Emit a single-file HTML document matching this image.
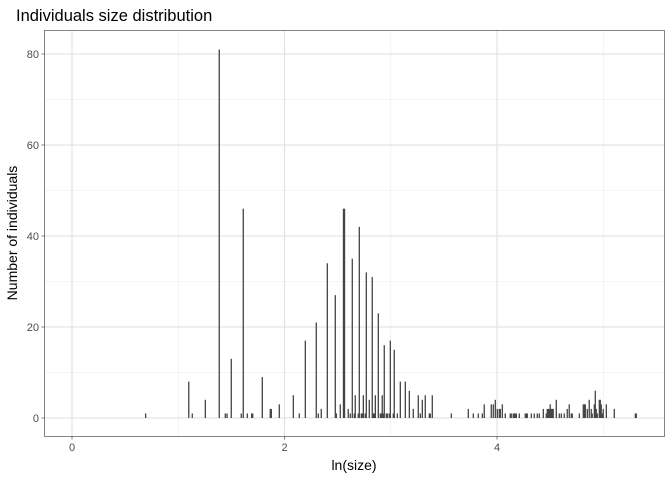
<!DOCTYPE html>
<html><head><meta charset="utf-8">
<style>
html,body{margin:0;padding:0;background:#fff;}
svg{display:block;font-family:"Liberation Sans",Arial,sans-serif;}
</style></head>
<body>
<svg id="chart" width="672" height="480" viewBox="0 0 672 480">
<text x="16" y="21" font-size="16.5" fill="#000">Individuals size distribution</text>
<g id="grid"></g>
<g id="bars"></g>
<rect x="44.5" y="30.5" width="620" height="406" fill="none" stroke="#333" stroke-width="0.6"/>
<g id="axes"></g>
<text x="354" y="470" font-size="14" text-anchor="middle" fill="#000">ln(size)</text>
<text transform="translate(17,233) rotate(-90)" font-size="14" text-anchor="middle" fill="#000">Number of individuals</text>
</svg>
<script>
const binX = [0.693,1.099,1.132,1.255,1.386,1.443,1.459,1.499,1.593,1.612,1.650,1.691,1.701,1.791,1.866,1.876,1.951,
2.083,2.139,2.196,2.299,2.318,2.346,2.403,2.478,2.488,2.525,2.555,2.565,2.600,2.619,2.638,2.657,2.666,2.694,2.704,2.723,2.732,2.742,2.760,2.770,2.798,2.826,2.836,2.845,2.855,2.883,2.902,2.911,2.920,2.930,2.939,2.958,2.968,2.986,2.996,3.024,3.033,3.062,3.090,3.137,3.175,3.212,3.259,3.278,3.297,3.325,3.363,3.372,3.391,
3.570,3.730,3.777,3.824,3.862,3.880,3.946,3.965,3.984,4.003,4.021,4.031,4.050,4.078,4.125,4.134,4.153,4.163,4.172,4.182,4.210,4.266,4.276,4.285,4.323,4.351,4.379,4.398,4.436,4.464,4.473,4.482,4.492,4.501,4.511,4.520,4.529,4.558,4.586,4.605,4.633,4.661,4.680,4.699,4.708,4.775,4.812,4.822,4.831,4.850,4.868,4.887,4.896,4.916,4.925,4.934,4.944,4.963,4.972,4.981,4.991,5.000,5.029,5.104,5.302,5.311];
const counts = [1,8,1,4,81,1,1,13,1,46,1,1,1,9,2,2,3,
5,1,17,21,1,2,34,27,1,3,46,46,2,1,35,1,5,1,42,1,1,5,1,32,4,31,1,1,5,23,1,1,5,1,16,1,1,1,17,1,15,1,8,8,6,2,5,1,4,5,1,1,5,
1,2,1,1,1,3,3,3,4,2,2,2,3,1,1,1,1,1,1,1,1,1,1,1,1,1,1,1,2,1,2,2,2,3,2,2,2,4,1,1,1,2,3,1,1,1,3,3,3,2,4,2,1,3,6,2,1,4,4,3,1,2,3,2,1,1];
const xTicks = [0,2,4];
const xMinor = [1,3,5];
const yTicks = [0,20,40,60,80];
const yMinor = [10,30,50,70];
const binWidth = 0.0094;

const X = v => 72 + v*106.25;
const Y = v => 418 - v*4.55;
const NS = "http://www.w3.org/2000/svg";
function mk(tag, attrs, parent){const e=document.createElementNS(NS,tag);for(const k in attrs)e.setAttribute(k,attrs[k]);parent.appendChild(e);return e;}
const grid=document.getElementById('grid'), bars=document.getElementById('bars'), axes=document.getElementById('axes');
mk('rect',{x:44.5,y:30.5,width:620,height:406,fill:'#fff'},grid);
yMinor.forEach(v=>{const l=mk('line',{x1:44.5,x2:664.5,y1:Y(v),y2:Y(v),stroke:'#ececec','stroke-width':0.6},grid);

});
xMinor.forEach(v=>{const l=mk('line',{x1:X(v),x2:X(v),y1:30.5,y2:436.5,stroke:'#ececec','stroke-width':0.6},grid);

});
yTicks.forEach(v=>{const l=mk('line',{x1:44.5,x2:664.5,y1:Y(v),y2:Y(v),stroke:'#e3e3e3','stroke-width':1.2},grid);


const t=mk('line',{x1:41.5,x2:44.5,y1:Y(v),y2:Y(v),stroke:'#333','stroke-width':0.6},axes);


const tx=mk('text',{x:39,y:Y(v)+4,'font-size':11,'text-anchor':'end',fill:'#4d4d4d'},axes);tx.textContent=v;

});
xTicks.forEach(v=>{const l=mk('line',{x1:X(v),x2:X(v),y1:30.5,y2:436.5,stroke:'#e3e3e3','stroke-width':1.2},grid);


const t=mk('line',{x1:X(v),x2:X(v),y1:436.5,y2:439.5,stroke:'#333','stroke-width':0.6},axes);


const tx=mk('text',{x:X(v),y:451,'font-size':11,'text-anchor':'middle',fill:'#4d4d4d'},axes);tx.textContent=v;

});
binX.forEach((v,i)=>{const c=counts[i];const w=binWidth*106.25+0.3;
const r=mk('rect',{x:X(v)-w/2,y:Y(c),width:w,height:Y(0)-Y(c),fill:'#444'},bars);

});
</script>
</body></html>
